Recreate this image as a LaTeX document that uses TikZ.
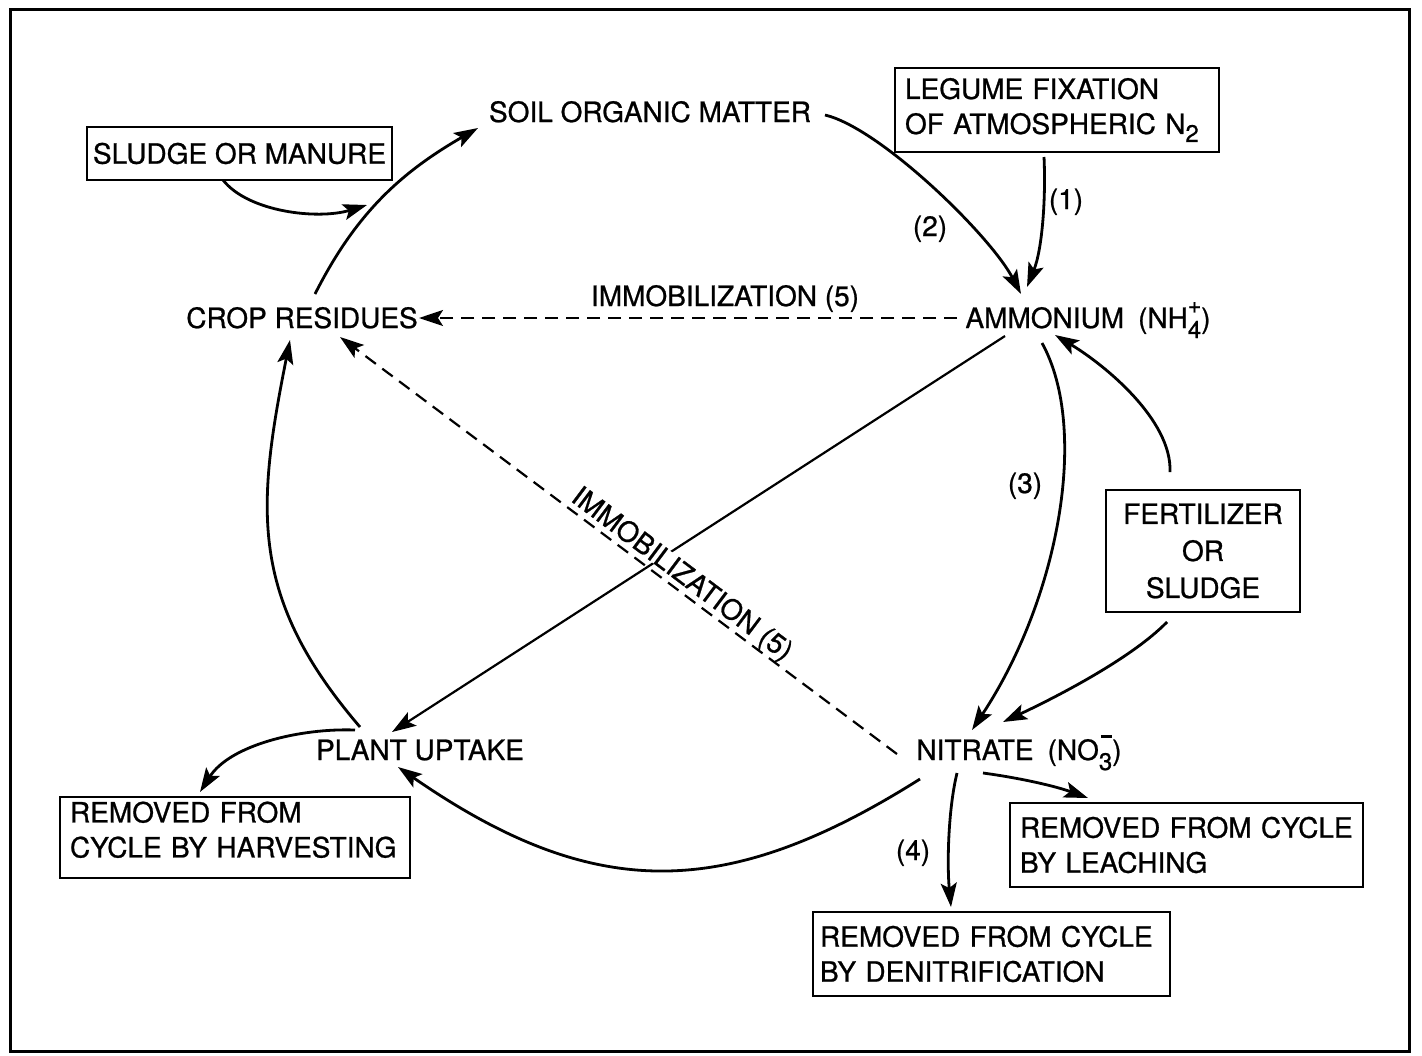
\documentclass[tikz,border=0pt]{standalone}
\usepackage{fontspec}
\setmainfont{TeX Gyre Heros}[FakeBold=0.8]
\usetikzlibrary{arrows.meta}
\newcommand\chemsubsup[2]{\rlap{\raisebox{7.5pt}{\fontsize{11.5}{11.5}\selectfont #2}}\raisebox{-5pt}{\fontsize{12}{12}\selectfont #1}}
\newcommand\chemsubbar[1]{\rlap{\raisebox{11pt}{\hspace{1pt}\rule{5.5pt}{1.4pt}}}\raisebox{-5pt}{\fontsize{12}{12}\selectfont #1}}
\newcommand\chemsub[1]{\raisebox{-4pt}{\fontsize{12}{12}\selectfont #1}}
\tikzset{
  lbl/.style={inner sep=0pt, text height=10pt, text depth=0pt, font=\fontsize{14}{17.5}\selectfont},
  boxnode/.style={draw, line width=1pt, inner sep=0pt, font=\fontsize{14}{17.5}\selectfont},
  conn/.style={line width=1.4pt, -{Stealth[length=12pt,width=8pt,inset=2.5pt]}},
  dashconn/.style={line width=1.1pt, dash pattern=on 6.5pt off 4pt, -{Stealth[length=12pt,width=8pt,inset=2.5pt]}},
  thinconn/.style={line width=1.1pt, -{Stealth[length=12pt,width=8pt,inset=2.5pt]}},
}
\begin{document}
\begin{tikzpicture}[x=0.5pt,y=-0.5pt]
\useasboundingbox (0,0) rectangle (1422,1055);
\draw[line width=1.5pt] (10,9) rectangle (1409,1051);

% main nodes
\node[lbl] (soil) at (650,112) {SOIL ORGANIC MATTER};
\node[lbl] (crop) at (302,318) {CROP RESIDUES};
\node[lbl] (amm) at (1088,318) {AMMONIUM\hspace{7pt}(NH\chemsubsup{4}{+})};
\node[lbl] (nit) at (1019,750) {NITRATE\hspace{7pt}(NO\chemsubbar{3})};
\node[lbl] (plant) at (420,750) {PLANT UPTAKE};

% boxes
\node[boxnode, minimum width=162pt, minimum height=42pt, text width=152pt, align=left] (legume) at (1057,110) {LEGUME FIXATION\\OF ATMOSPHERIC N\chemsub{2}};
\node[boxnode, minimum width=152.5pt, minimum height=26.5pt] (sludge) at (239.5,153.5) {SLUDGE OR MANURE};
\node[boxnode, minimum width=97pt, minimum height=61pt, align=center] (fert) at (1203,551) {FERTILIZER\\[1pt]OR\\[1pt]SLUDGE};
\node[boxnode, minimum width=175pt, minimum height=40.5pt, text width=165pt, align=left] (harv) at (235,837.5) {REMOVED FROM\\CYCLE BY HARVESTING\rule[-8pt]{0pt}{0pt}};
\node[boxnode, minimum width=176.5pt, minimum height=42pt, text width=166.5pt, align=left] (leach) at (1186.5,845) {REMOVED FROM CYCLE\\BY LEACHING};
\node[boxnode, minimum width=178.5pt, minimum height=42pt, text width=171.5pt, align=left] (denit) at (991.5,954) {REMOVED FROM CYCLE\\BY DENITRIFICATION};

% labels
\node[lbl] (l1) at (1066,199) {(1)};
\node[lbl] (l2) at (930,226) {(2)};
\node[lbl] (l3) at (1025,483) {(3)};
\node[lbl] (l4) at (913,850) {(4)};
\node[lbl] (imm1) at (725,296) {IMMOBILIZATION (5)};

\coordinate (sludgetip) at (367,205);

% connectors
\draw[conn] ([shift={(13,-24)}]crop.center) .. controls (355.5,214) and (400,173) .. ([shift={(-172,16)}]soil.center);
\draw[conn] ([shift={(175,3)}]soil.center) .. controls (880,128) and (990,235) .. ([shift={(-67,-24)}]amm.center);
\draw[conn] ([shift={(-13,47)}]legume.center) .. controls (1046,200) and (1042,250) .. ([shift={(-61,-31)}]amm.center);
\draw[dashconn] ([shift={(-131,0)}]amm.center) -- ([shift={(117,0)}]crop.center);
\draw[thinconn] ([shift={(-83,18)}]amm.center) -- ([shift={(-28,-18)}]plant.center);
\draw[conn] ([shift={(-46,25)}]amm.center) .. controls (1090,430) and (1058,600) .. ([shift={(-47,-20)}]nit.center);
\draw[conn] ([shift={(-33,-79)}]fert.center) .. controls (1172,420) and (1105,365) .. ([shift={(-33,17)}]amm.center);
\draw[conn] ([shift={(-36,71)}]fert.center) .. controls (1130,660) and (1050,700) .. ([shift={(-16,-28)}]nit.center);
\draw[dashconn] ([shift={(-122,4)}]nit.center) -- ([shift={(38,19)}]crop.center);
\draw[conn] ([shift={(-99,29)}]nit.center) .. controls (725,902) and (593,902) .. ([shift={(-22,17)}]plant.center);
\draw[conn] ([shift={(-60,-23)}]plant.center) .. controls (249.5,598) and (256,510) .. ([shift={(-12,22)}]crop.center);
\draw[conn] ([shift={(-65,-20)}]plant.center) .. controls (300,728) and (230,745) .. ([shift={(-35,-45.5)}]harv.center);
\draw[conn] ([shift={(-62,23)}]nit.center) .. controls (948,810) and (947,865) .. ([shift={(-40.5,-47)}]denit.center);
\draw[conn] ([shift={(-36,23)}]nit.center) .. controls (1020,778) and (1055,786) .. ([shift={(-98.5,-47)}]leach.center);
\draw[conn] ([shift={(-16.5,26.5)}]sludge.center) .. controls (248,212) and (318,220) .. (sludgetip);

% diagonal label, drawn last so that it interrupts the solid line
\node[lbl, fill=white, inner xsep=3pt, rotate=-36.9] (imm2) at (683,573) {IMMOBILIZATION (5)};
\end{tikzpicture}
\end{document}
